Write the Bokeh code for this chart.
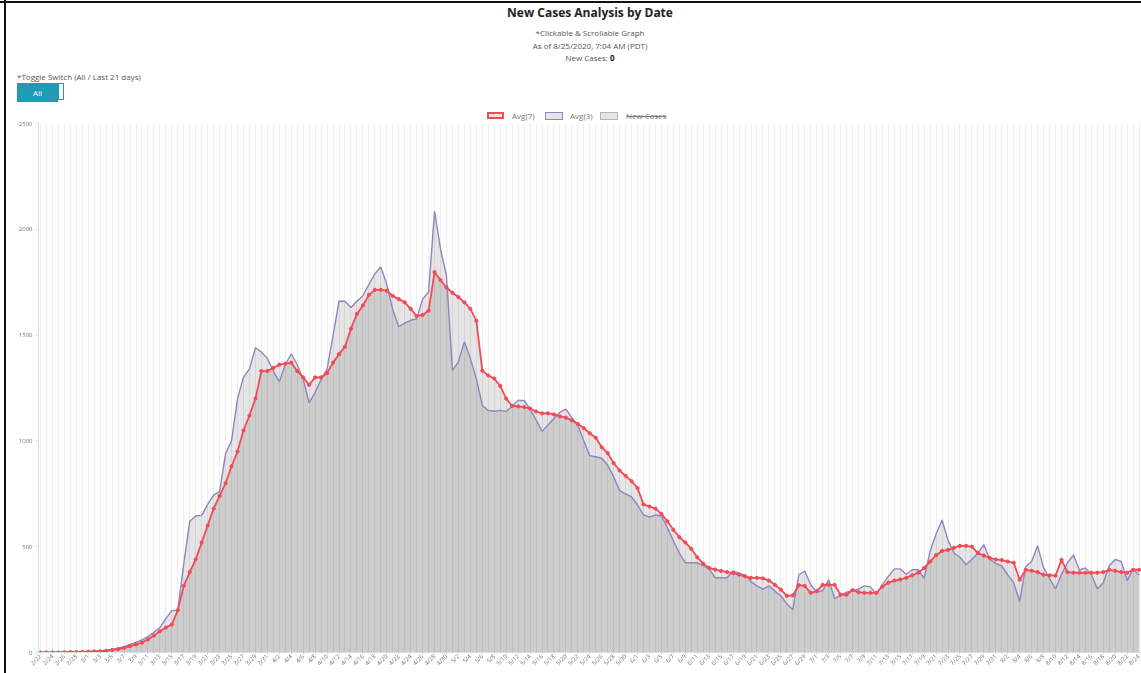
import math
import datetime
from bokeh.plotting import figure
from bokeh.models import Range1d, FixedTicker, Div
from bokeh.layouts import column
from bokeh.embed import file_html
from bokeh.resources import INLINE

# ---------------- data ----------------
start_date = datetime.date(2020, 2, 22)

avg3 = [0, 0, 1, 2, 3, 3, 2, 3, 4, 6, 8, 11, 15, 20, 28, 38, 48, 60, 75, 95, 118, 160, 198, 200,
        420, 620, 645, 648, 700, 744, 760, 940, 1000, 1200, 1300, 1340, 1440, 1420, 1390, 1330,
        1280, 1360, 1412, 1360, 1290, 1180, 1230, 1290, 1340, 1497, 1660, 1660, 1630, 1660, 1686,
        1740, 1790, 1822, 1740, 1620, 1540, 1556, 1570, 1577, 1670, 1704, 2085, 1907, 1780, 1332,
        1375, 1469, 1389, 1295, 1168, 1144, 1140, 1144, 1139, 1165, 1191, 1191, 1150, 1100, 1045,
        1075, 1106, 1135, 1150, 1110, 1073, 1000, 930, 925, 918, 885, 830, 765, 750, 735, 697, 650,
        640, 650, 645, 590, 527, 470, 424, 424, 424, 410, 395, 353, 353, 353, 386, 375, 365, 335,
        315, 300, 315, 290, 268, 230, 202, 367, 385, 320, 285, 292, 344, 255, 270, 285, 292, 300,
        315, 310, 275, 320, 360, 395, 395, 370, 391, 391, 350, 480, 560, 626, 530, 470, 450, 415,
        440, 470, 510, 440, 420, 410, 367, 330, 240, 405, 430, 504, 400, 350, 300, 370, 424, 461,
        390, 400, 370, 300, 330, 410, 440, 430, 340, 395, 365]

avg7 = [0, 0, 0, 0, 1, 2, 2, 3, 4, 5, 6, 8, 12, 16, 22, 30, 38, 47, 62, 80, 100, 118, 132,
        200, 315, 380, 440, 520, 600, 680, 740, 800, 880, 950, 1050, 1120, 1200, 1330, 1330, 1345,
        1360, 1365, 1370, 1330, 1300, 1265, 1300, 1300, 1320, 1370, 1410, 1445, 1530, 1600, 1640,
        1690, 1714, 1714, 1710, 1685, 1670, 1655, 1624, 1590, 1595, 1615, 1798, 1760, 1725, 1700,
        1680, 1655, 1624, 1568, 1332, 1309, 1295, 1260, 1200, 1165, 1163, 1160, 1153, 1139, 1130,
        1130, 1125, 1116, 1110, 1097, 1080, 1060, 1036, 1015, 970, 942, 895, 860, 835, 810, 777,
        700, 690, 680, 655, 620, 580, 545, 520, 490, 450, 420, 400, 392, 386, 380, 375, 368, 360,
        353, 353, 350, 340, 320, 297, 268, 270, 318, 315, 282, 290, 320, 320, 320, 273, 273, 295,
        285, 282, 282, 282, 312, 330, 340, 345, 353, 365, 377, 400, 430, 460, 480, 485, 495, 504,
        504, 500, 470, 458, 447, 440, 437, 430, 424, 344, 391, 386, 380, 367, 365, 363, 438, 380,
        377, 377, 377, 377, 377, 380, 391, 386, 380, 377, 391, 391]

n_days = max(len(avg3), len(avg7))
date_labels = [f"{d.month}/{d.day}" for d in
               (start_date + datetime.timedelta(days=i) for i in range(n_days))]
y_ticks = [0, 500, 1000, 1500, 2000, 2500]

title_text = "New Cases Analysis by Date"
sub1 = "*Clickable &amp; Scrollable Graph"
sub2 = "As of 8/25/2020, 7:04 AM (PDT)"
new_cases_today = "0"
toggle_text = "*Toggle Switch (All / Last 21 days)"
legend_labels = ["Avg(7)", "Avg(3)", "New Cases"]

RED = "#f44a55"
PURPLE = "#9384bf"
FONT = "Open Sans"

# ---------------- header (title, toggle, legend) ----------------
header_html = f"""
<div style="position:relative;left:3px;width:1130px;height:107px;font-family:'{FONT}',sans-serif;color:#444;">
  <div style="position:fixed;left:4px;top:0;width:2px;height:673px;background:#111;"></div>
  <div style="position:fixed;left:0;top:1px;width:1141px;height:2px;background:#111;"></div>
  <div style="position:absolute;left:332px;top:0px;width:500px;text-align:center;font-size:12px;font-weight:bold;color:#222;line-height:15px;">{title_text}</div>
  <div style="position:absolute;left:432px;top:23px;width:300px;text-align:center;font-size:8px;line-height:10px;color:#555;">{sub1}</div>
  <div style="position:absolute;left:432px;top:36px;width:300px;text-align:center;font-size:8px;line-height:10px;color:#555;">{sub2}</div>
  <div style="position:absolute;left:432px;top:48px;width:300px;text-align:center;font-size:8px;line-height:10px;color:#555;">New Cases: <b style="color:#222;">{new_cases_today}</b></div>
  <div style="position:absolute;left:9px;top:67px;font-size:8px;line-height:10px;color:#555;white-space:nowrap;">{toggle_text}</div>
  <div style="position:absolute;left:9px;top:78px;width:41px;height:19px;background:#1d9bb7;color:#fff;font-size:8px;line-height:19px;text-align:center;">All</div>
  <div style="position:absolute;left:50px;top:78px;width:6px;height:17px;background:#fff;border:1px solid #1d9bb7;"></div>
  <div style="position:absolute;left:479px;top:107px;width:17px;height:7px;border:2px solid {RED};background:rgba(0,0,0,0.1);"></div>
  <div style="position:absolute;left:504px;top:105px;font-size:8px;line-height:12px;color:#777;">{legend_labels[0]}</div>
  <div style="position:absolute;left:537px;top:107px;width:18px;height:8px;border:1.5px solid {PURPLE};background:rgba(0,0,0,0.1);"></div>
  <div style="position:absolute;left:562px;top:105px;font-size:8px;line-height:12px;color:#777;">{legend_labels[1]}</div>
  <div style="position:absolute;left:592px;top:107px;width:18px;height:8px;border:1.5px solid #b5b5b5;background:rgba(0,0,0,0.1);"></div>
  <div style="position:absolute;left:618px;top:105px;font-size:8px;line-height:12px;color:#777;text-decoration:line-through;">{legend_labels[2]}</div>
</div>
"""
header = Div(text=header_html, width=1133, height=107)

# ---------------- chart ----------------
p = figure(width=1141, height=555,
           x_range=Range1d(-0.33, n_days - 0.6), y_range=Range1d(0, 2500),
           output_backend="svg", toolbar_location=None,
           min_border_left=38, min_border_right=0, min_border_top=6, min_border_bottom=0)
p.outline_line_color = None
p.background_fill_color = "white"
p.border_fill_color = None

x3 = list(range(len(avg3)))
x7 = list(range(len(avg7)))

p.varea(x=x7, y1=[0] * len(x7), y2=avg7, fill_color="black", fill_alpha=0.1)
p.varea(x=x3, y1=[0] * len(x3), y2=avg3, fill_color="black", fill_alpha=0.1)
p.line(x3, avg3, line_color=PURPLE, line_width=1.4)
p.line(x7, avg7, line_color=RED, line_width=1.8)
p.scatter(x7, avg7, size=3.2, fill_color=RED, line_color=RED)

# x axis
x_ticks = list(range(0, n_days, 2))
p.xaxis.ticker = FixedTicker(ticks=x_ticks)
p.xaxis.major_label_overrides = {i: date_labels[i] for i in x_ticks}
p.xaxis.major_label_orientation = math.pi / 4
p.xaxis.major_label_text_font_size = "6px"
p.xaxis.major_label_text_font = FONT
p.xaxis.major_label_text_color = "#777"
p.xaxis.major_label_standoff = 1
p.xaxis.major_tick_out = 2
p.xaxis.major_tick_in = 0
p.xaxis.minor_tick_line_color = None
p.xaxis.major_tick_line_color = "#dddddd"
p.xaxis.axis_line_color = "#dddddd"

# y axis
p.yaxis.ticker = FixedTicker(ticks=y_ticks)
p.yaxis.major_label_text_font_size = "6px"
p.yaxis.major_label_text_font = FONT
p.yaxis.major_label_text_color = "#777"
p.yaxis.major_label_standoff = 3
p.yaxis.major_tick_out = 3
p.yaxis.major_tick_in = 0
p.yaxis.minor_tick_line_color = None
p.yaxis.major_tick_line_color = "#dddddd"
p.yaxis.axis_line_color = "#dddddd"

# grids: vertical line for every day, no horizontal grid
p.xgrid.ticker = FixedTicker(ticks=list(range(n_days)))
p.xgrid.grid_line_color = "black"
p.xgrid.grid_line_alpha = 0.07
p.ygrid.grid_line_color = None

layout = column(header, p)
open("out.html", "w").write(file_html(layout, INLINE))
